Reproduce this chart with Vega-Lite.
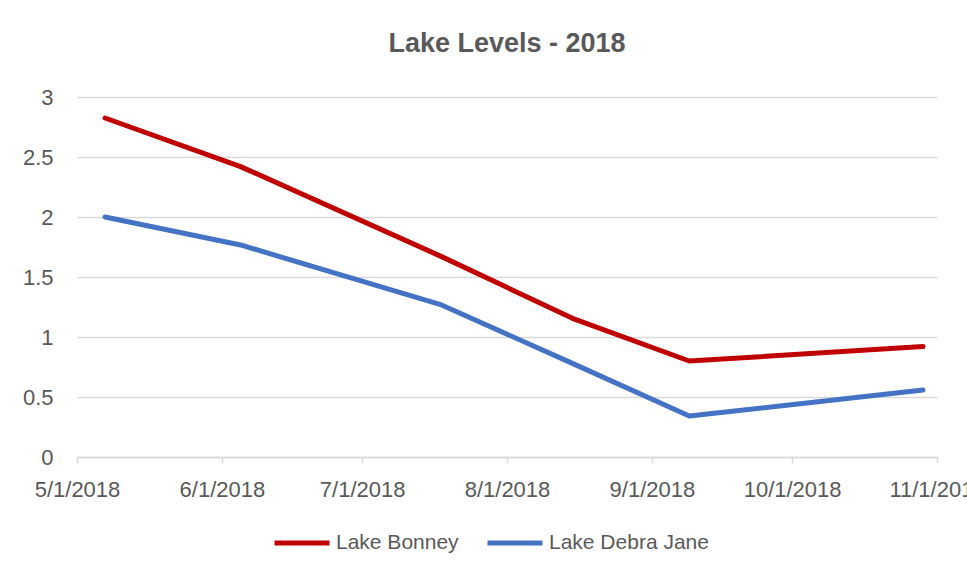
{
  "$schema": "https://vega.github.io/schema/vega-lite/v6.json",
  "width": 860,
  "height": 360,
  "autosize": {"type": "none"},
  "padding": {"left": 77, "top": 97, "right": 30, "bottom": 120},
  "background": "white",
  "title": {
    "text": "Lake Levels - 2018",
    "font": "Liberation Sans",
    "fontSize": 27,
    "fontWeight": "bold",
    "color": "#595959",
    "anchor": "middle",
    "offset": 28
  },
  "data": {
    "values": [
      {"date": "2018-05-07", "lake": "Lake Bonney", "level": 2.825},
      {"date": "2018-06-05", "lake": "Lake Bonney", "level": 2.42},
      {"date": "2018-07-18", "lake": "Lake Bonney", "level": 1.67},
      {"date": "2018-08-15", "lake": "Lake Bonney", "level": 1.156},
      {"date": "2018-09-09", "lake": "Lake Bonney", "level": 0.8},
      {"date": "2018-10-29", "lake": "Lake Bonney", "level": 0.92},
      {"date": "2018-05-07", "lake": "Lake Debra Jane", "level": 2.0},
      {"date": "2018-06-05", "lake": "Lake Debra Jane", "level": 1.767},
      {"date": "2018-07-18", "lake": "Lake Debra Jane", "level": 1.267},
      {"date": "2018-08-15", "lake": "Lake Debra Jane", "level": 0.78},
      {"date": "2018-09-09", "lake": "Lake Debra Jane", "level": 0.342},
      {"date": "2018-10-29", "lake": "Lake Debra Jane", "level": 0.558}
    ]
  },
  "mark": {"type": "line", "strokeWidth": 5, "strokeCap": "round", "strokeJoin": "round"},
  "encoding": {
    "x": {
      "field": "date",
      "type": "temporal",
      "scale": {"domain": [{"year": 2018, "month": 5, "date": 1}, {"year": 2018, "month": 11, "date": 1}], "nice": false},
      "axis": {
        "title": null,
        "format": "%-m/%-d/%Y",
        "tickCount": {"interval": "month", "step": 1},
        "grid": false,
        "domainColor": "#d9d9d9",
        "domainWidth": 1.5,
        "tickColor": "#d9d9d9",
        "tickWidth": 1.5,
        "tickSize": 6,
        "labelPadding": 16,
        "labelFont": "Liberation Sans",
        "labelFontSize": 22,
        "labelColor": "#595959",
        "labelOverlap": false,
        "labelFlush": false
      }
    },
    "y": {
      "field": "level",
      "type": "quantitative",
      "scale": {"domain": [0, 3], "nice": false},
      "axis": {
        "title": null,
        "values": [0, 0.5, 1, 1.5, 2, 2.5, 3],
        "format": "~g",
        "domain": false,
        "ticks": false,
        "gridColor": "#d9d9d9",
        "gridWidth": 1.5,
        "labelPadding": 24,
        "labelFont": "Liberation Sans",
        "labelFontSize": 22,
        "labelColor": "#595959"
      }
    },
    "color": {
      "field": "lake",
      "type": "nominal",
      "scale": {"domain": ["Lake Bonney", "Lake Debra Jane"], "range": ["#C00000", "#4472C4"]},
      "legend": {
        "title": null,
        "orient": "none",
        "direction": "horizontal",
        "legendX": 195,
        "legendY": 416,
        "symbolType": "stroke",
        "symbolSize": 3025,
        "symbolStrokeWidth": 5,
        "labelFont": "Liberation Sans",
        "labelFontSize": 21,
        "labelColor": "#595959",
        "labelOffset": 4,
        "columnPadding": 18
      }
    }
  },
  "config": {
    "view": {"stroke": null}
  }
}
